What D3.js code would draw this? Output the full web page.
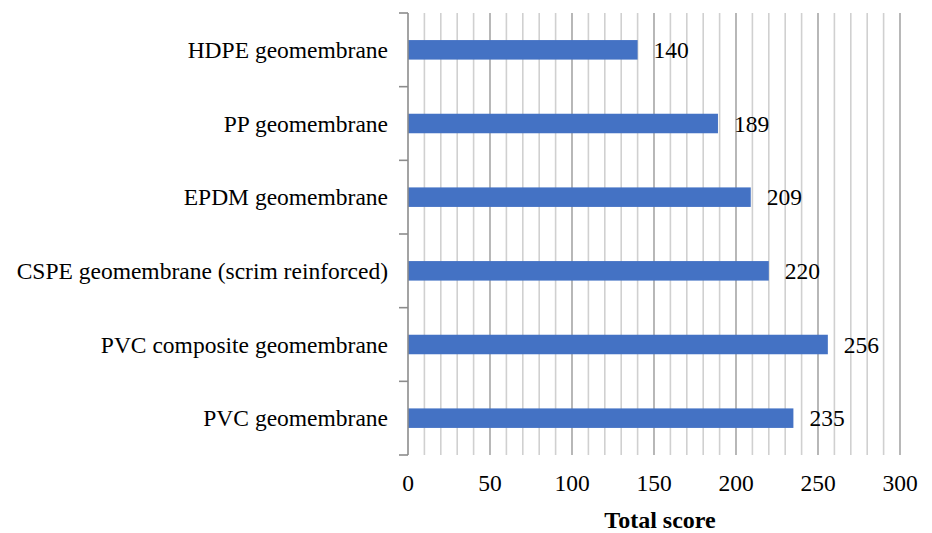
<!DOCTYPE html>
<html>
<head>
<meta charset="utf-8">
<script src="https://cdn.jsdelivr.net/npm/d3@7"></script>
<style>
  html, body { margin: 0; padding: 0; background: #fff; }
  svg { display: block; }
  text { font-family: "Liberation Serif", "Times New Roman", serif; fill: #000; }
</style>
</head>
<body>
<svg id="chart" width="932" height="533"></svg>
<script>
// Geomembrane options and their total scores (top to bottom)
const categories = [
  "HDPE geomembrane",
  "PP geomembrane",
  "EPDM geomembrane",
  "CSPE geomembrane (scrim reinforced)",
  "PVC composite geomembrane",
  "PVC geomembrane"
];
const scores = [140, 189, 209, 220, 256, 235];
const xTicks = [0, 50, 100, 150, 200, 250, 300];
const xTitle = "Total score";

const data = categories.map((c, i) => ({ name: c, value: scores[i] }));

const svg = d3.select("#chart");
const FS = 23.5;

const x = d3.scaleLinear().domain([0, 300]).range([408, 900]);
const y = d3.scaleBand().domain(categories).range([13, 455]).paddingInner(0.735).paddingOuter(0.3675);
const yBand = d3.scaleBand().domain(categories).range([13, 455]);

// Minor gridlines every 10, major every 50
const minor = d3.range(10, 301, 10).filter(v => v % 50 !== 0);
svg.append("g").selectAll("line").data(minor).join("line")
  .attr("x1", d => x(d)).attr("x2", d => x(d))
  .attr("y1", 13).attr("y2", 455)
  .attr("stroke", "#d0d0d0").attr("stroke-width", 1.6);
svg.append("g").selectAll("line").data(xTicks.filter(v => v > 0)).join("line")
  .attr("x1", d => x(d)).attr("x2", d => x(d))
  .attr("y1", 13).attr("y2", 455)
  .attr("stroke", "#a6a6a6").attr("stroke-width", 1.6);

// Bars
svg.append("g").selectAll("rect").data(data).join("rect")
  .attr("x", x(0))
  .attr("y", d => y(d.name))
  .attr("width", d => x(d.value) - x(0))
  .attr("height", y.bandwidth())
  .attr("fill", "#4472c4");

// Value labels
svg.append("g").selectAll("text").data(data).join("text")
  .attr("x", d => x(d.value) + 16)
  .attr("y", d => yBand(d.name) + yBand.bandwidth() / 2)
  .attr("dy", "0.35em")
  .attr("font-size", FS)
  .text(d => d.value);

// Left axis with boundary ticks
const axisG = svg.append("g");
axisG.append("line")
  .attr("x1", x(0)).attr("x2", x(0))
  .attr("y1", 13).attr("y2", 455)
  .attr("stroke", "#8c8c8c").attr("stroke-width", 1.6);
const bounds = categories.map(c => yBand(c)).concat([455]);
axisG.selectAll("line.tick").data(bounds).join("line")
  .attr("class", "tick")
  .attr("x1", x(0) - 9).attr("x2", x(0))
  .attr("y1", d => d).attr("y2", d => d)
  .attr("stroke", "#8c8c8c").attr("stroke-width", 1.6);

// Category labels
svg.append("g").selectAll("text").data(categories).join("text")
  .attr("x", 388)
  .attr("y", d => yBand(d) + yBand.bandwidth() / 2)
  .attr("dy", "0.35em")
  .attr("text-anchor", "end")
  .attr("font-size", FS)
  .text(d => d);

// X tick labels
svg.append("g").selectAll("text").data(xTicks).join("text")
  .attr("x", d => x(d))
  .attr("y", 491)
  .attr("text-anchor", "middle")
  .attr("font-size", FS)
  .text(d => d);

// X axis title
svg.append("text")
  .attr("x", 660).attr("y", 528)
  .attr("text-anchor", "middle")
  .attr("font-size", 24)
  .attr("font-weight", "bold")
  .text(xTitle);
</script>
</body>
</html>
